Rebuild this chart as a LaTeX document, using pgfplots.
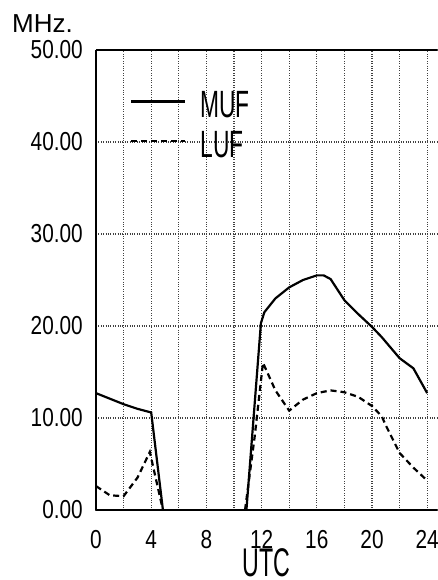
\documentclass[border=0pt]{standalone}
\usepackage{fontspec}
\setmainfont{Liberation Sans}
\newfontfamily\tickfont{Liberation Sans}[FakeStretch=0.8]
\newfontfamily\legfont{Liberation Sans}[FakeStretch=0.6]
\newfontfamily\utcfont{Liberation Sans}[FakeStretch=0.58]
\usepackage{pgfplots}
\pgfplotsset{compat=1.18}
\begin{document}
\begin{tikzpicture}
\begin{axis}[
  scale only axis, width=341pt, height=460pt,
  xmin=0, xmax=24.71, ymin=0, ymax=50,
  axis x line=box, axis y line=left,
  axis line style={-, line width=1.6pt},
  xtick={0,4,...,24}, minor xtick={2,6,...,22},
  ytick={0,10,...,50},
  grid=both,
  major grid style={dotted, line width=1.1pt, black!75},
  minor grid style={dotted, line width=1.1pt, black!75},
  major tick length=0pt, minor tick length=0pt,
  /pgf/number format/assume math mode=true,
  yticklabel={\pgfmathprintnumber[fixed,fixed zerofill,precision=2]{\tick}},
  yticklabel style={font=\fontsize{26pt}{26pt}\tickfont, inner sep=0pt, xshift=-13pt},
  xticklabel style={font=\fontsize{26pt}{26pt}\tickfont, inner sep=0pt, yshift=-20pt},
  xlabel={UTC},
  xlabel style={at={(axis description cs:0.499,-0.1435)}, anchor=base, inner sep=0pt, font=\fontsize{40pt}{40pt}\utcfont},
  unbounded coords=jump,
  legend style={at={(axis cs:2.46,45.54)}, anchor=north west, draw=none, fill=none,
    inner sep=0pt, row sep=12pt, column sep=14pt,
    font=\fontsize{38pt}{38pt}\legfont, nodes={inner sep=0pt}},
  legend image code/.code={\draw[#1] (0pt,0.35em) -- (54pt,0.35em);},
  legend cell align=left,
  clip=true,
]
\addplot[black, line width=2.2pt] coordinates {
(0,12.7) (1,12.1) (2,11.5) (3,11.0) (4,10.6) (4.85,0)
(5,nan)
(10.9,0) (11.95,20.3) (12.2,21.5) (13,23.0) (14,24.2) (15,25.0) (16,25.5) (16.5,25.5) (17,25.1) (18,22.8) (19,21.3) (20,19.9) (20.7,18.8) (22,16.5) (23,15.4) (24,12.7)
};
\addlegendentry{MUF}
\addplot[black, line width=2.2pt, dash pattern=on 6pt off 4pt] coordinates {
(0,2.6) (1,1.6) (2,1.5) (3,3.5) (3.9,6.3) (4.85,0)
(5,nan)
(10.8,0) (11.5,8) (12.1,16.0) (13,13.0) (14,10.8) (15,12.0) (16,12.7) (17,13.0) (18,12.8) (19,12.3) (20,11.3) (20.7,10.2) (21,9.2) (22,6.2) (23,4.6) (24,3.2)
};
\addlegendentry{LUF}
\coordinate (BL) at (rel axis cs:0,0);
\end{axis}
\node[anchor=base west, inner sep=0pt, font=\fontsize{26pt}{26pt}\selectfont] at ([shift={(-84pt,477pt)}]BL) {MHz.};
\pgfresetboundingbox
\path (BL) ++(-96pt,-70pt) rectangle ++(437pt,580pt);
\end{tikzpicture}
\end{document}
